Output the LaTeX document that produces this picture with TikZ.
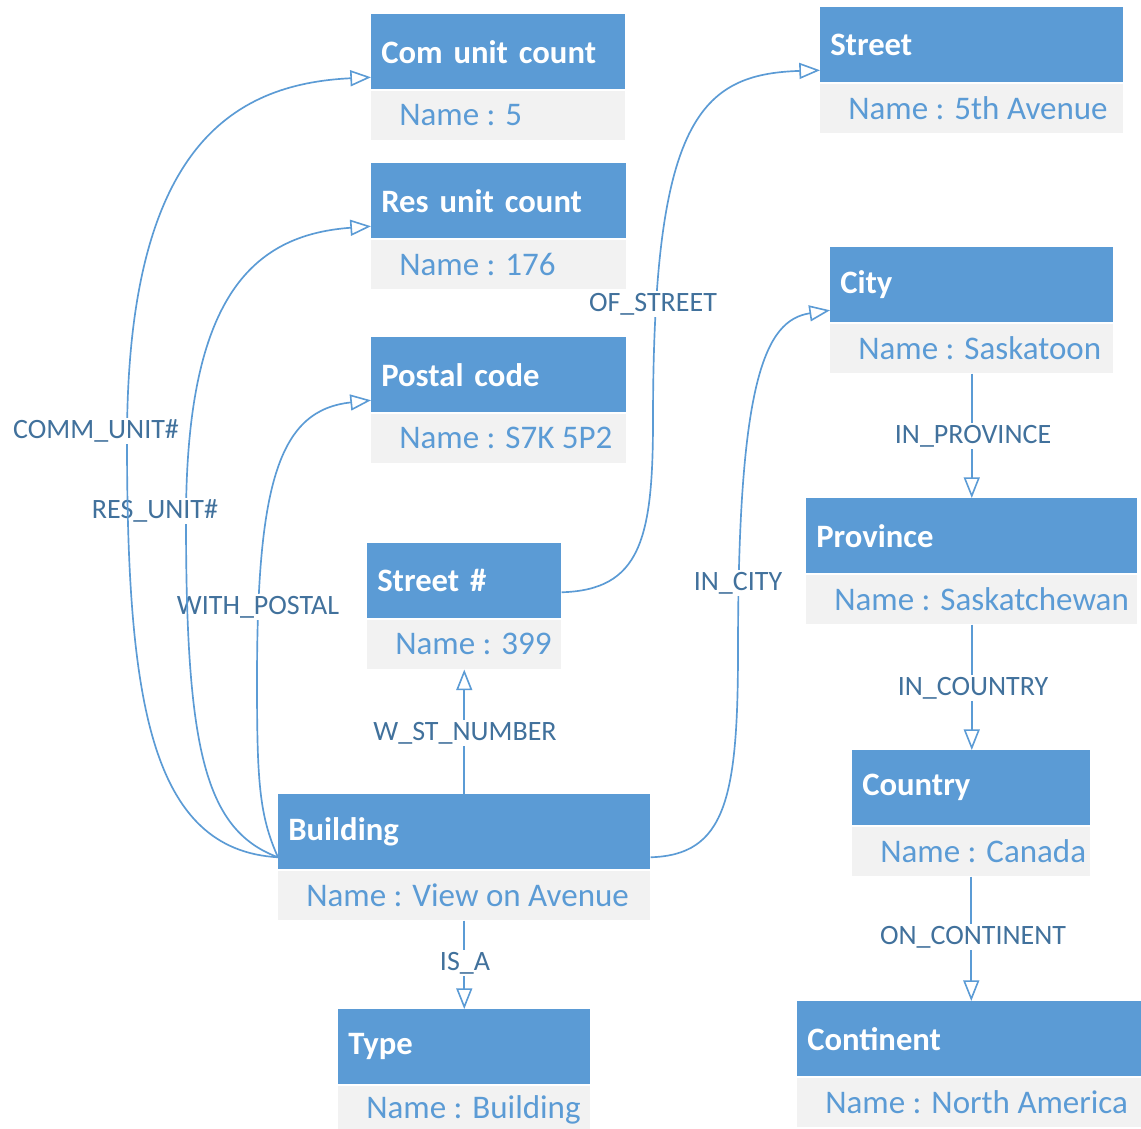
\documentclass[tikz,border=0pt]{standalone}
\usepackage{fontspec}
\setmainfont{Carlito}
\usetikzlibrary{arrows.meta}

\definecolor{headblue}{HTML}{5B9BD5}
\definecolor{bodygray}{HTML}{F2F2F2}
\definecolor{labelblue}{HTML}{41719C}

\def\pxu{0.75pt}

\tikzset{
  whole/.style={draw=none, fill=bodygray, inner sep=0pt, minimum height=126*\pxu},
  head/.style={fill=headblue, draw=none, inner xsep=10*\pxu, inner ysep=0pt,
    minimum height=75*\pxu, align=left, text=white,
    font=\fontsize{24.5}{28}\selectfont\bfseries},
  gap/.style={draw=white, line width=1.5pt},
  val/.style={inner sep=0pt, text=headblue, font=\fontsize{24.75}{28}\selectfont},
  conn/.style={draw=headblue, line width=1.25pt,
    -{Triangle[open, length=15.5pt, width=12pt, line width=1.2pt]}},
  rel/.style={fill=white, inner xsep=1pt, inner ysep=1.5pt, text=labelblue,
    font=\fontsize{21}{24}\selectfont},
}

% entity box: name, left, top, width, title, value
\newcommand\entity[6]{%
  \pgfmathsetlengthmacro\entW{#4*\pxu}%
  \pgfmathsetlengthmacro\entT{(#4-20)*\pxu}%
  \node[whole, minimum width=\entW, anchor=north west] (#1) at (#2,#3) {};
  \node[head, text width=\entT, anchor=north west] (#1H) at (#1.north west) {#5};
  \draw[gap] (#1H.south west) -- (#1H.south east);
  \node[val, anchor=west] (#1V) at ([shift={(28,101)}]#1.north west) {Name : #6};
}

\begin{document}
\begin{tikzpicture}[x=0.75pt, y=-0.75pt]
\clip (0,0) rectangle (1141,1128);
\fill[white] (0,0) rectangle (1141,1128);

% left column
\entity{com}{371}{14}{254}{Com unit count}{5}
\entity{res}{371}{163}{255}{Res unit count}{176}
\entity{post}{371}{337}{255}{Postal code}{S7K 5P2}
\entity{stn}{367}{543}{194}{Street \#}{399}
\entity{bld}{278}{794}{372}{Building}{View on Avenue}
\entity{typ}{338}{1009}{252}{Type}{Building}

% right column
\entity{str}{820}{7}{303}{Street}{5th Avenue}
\entity{city}{830}{247}{283}{City}{Saskatoon}
\entity{prov}{806}{498}{331}{Province}{Saskatchewan}
\entity{ctry}{852}{750}{238}{Country}{Canada}
\entity{cont}{797}{1001}{344}{Continent}{North America}

% curved relations on the left, innermost first
\draw[conn] (bld.west) .. controls (259,815) and (257,780) .. (257,680)
  .. controls (257,480) and (280,410) .. (post.west);
\node[rel] (lpost) at (258,607) {WITH\_POSTAL};

\draw[conn] (bld.west) .. controls (205,830) and (186,750) .. (186,520)
  .. controls (186,300) and (250,235) .. (res.west);
\node[rel] (lres) at (155,511) {RES\_UNIT\#};

\draw[conn] (bld.west) .. controls (150,850) and (127,700) .. (127,440)
  .. controls (127,150) and (230,84) .. (com.west);
\node[rel] (lcom) at (96,431) {COMM\_UNIT\#};

% curved relations on the right
\draw[conn] ([yshift=10.5pt]stn.east) .. controls (640,590) and (653,540) .. (653,420)
  .. controls (653,120) and (700,74) .. (str.west);
\node[rel] (lstr) at (653,304) {OF\_STREET};

\draw[conn] (bld.east) .. controls (725,855) and (738,800) .. (738,650)
  .. controls (738,380) and (765,320) .. (city.west);
\node[rel] (lcity) at (738,583) {IN\_CITY};

% straight relations
\draw[conn] (bld.north) -- (stn.south);
\node[rel] (lnum) at (465,733) {W\_ST\_NUMBER};

\draw[conn] (bld.south) -- (typ.north);
\node[rel] (ltyp) at (465,963) {IS\_A};

\draw[conn] (city.south) -- (city.south |- prov.north);
\node[rel] (lprov) at (973,436) {IN\_PROVINCE};

\draw[conn] (prov.south) -- (prov.south |- ctry.north);
\node[rel] (lctry) at (973,688) {IN\_COUNTRY};

\draw[conn] (ctry.south) -- (ctry.south |- cont.north);
\node[rel] (lcont) at (973,937) {ON\_CONTINENT};
\end{tikzpicture}
\end{document}
